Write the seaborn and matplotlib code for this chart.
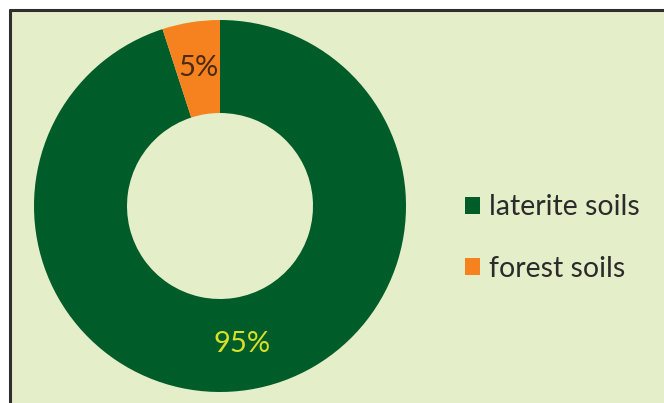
import matplotlib
matplotlib.use("Agg")
import matplotlib.pyplot as plt
from matplotlib.patches import Rectangle
import seaborn as sns

# Soil composition shares
categories = ["laterite soils", "forest soils"]
shares = [95, 5]

sns.set_theme(style="white")
plt.rcParams["font.family"] = ["Lato", "DejaVu Sans"]

W, H = 664, 403
fig = plt.figure(figsize=(W / 100, H / 100), dpi=100)
fig.patch.set_facecolor("white")

# Panel background with a dark frame on the top and left edges
bg = "#e4eec8"
fig.add_artist(Rectangle((9 / W, 0), 1, 1 - 9 / H, transform=fig.transFigure,
                         facecolor=bg, edgecolor="none", zorder=0))
fig.add_artist(plt.Line2D([9.5 / W, 9.5 / W], [0, 1 - 9.5 / H], transform=fig.transFigure,
                          color="#2e2e2e", lw=2.2, zorder=1))
fig.add_artist(plt.Line2D([9.5 / W, 1], [1 - 9.5 / H, 1 - 9.5 / H], transform=fig.transFigure,
                          color="#2e2e2e", lw=2.2, zorder=1))

cx, cy, r = 220, 206, 186
ax = fig.add_axes([(cx - r) / W, (H - cy - r) / H, 2 * r / W, 2 * r / H])
ax.set_facecolor("none")

colors = ["#005c28", "#f5821f"]
wedges, texts, autotexts = ax.pie(
    shares, colors=colors, startangle=90, counterclock=False,
    radius=1, wedgeprops=dict(width=0.5, edgecolor="none"),
    autopct=lambda p: f"{p:.0f}%", pctdistance=0.75,
    textprops=dict(fontsize=21),
)
autotexts[0].set_color("#d8e02a")
autotexts[1].set_color("#4a2a12")
ax.set_xlim(-1, 1)
ax.set_ylim(-1, 1)
ax.set_aspect("equal")
ax.axis("off")

leg = fig.legend(
    wedges, categories, loc="center left",
    bbox_to_anchor=(465 / W, 1 - 238 / H), frameon=False, borderpad=0,
    borderaxespad=0,
    fontsize=20.5, handlelength=0.53, handleheight=0.53,
    handletextpad=0.32, labelspacing=1.25, labelcolor="#2b2b2b",
)

fig.savefig("out.png", dpi=100, facecolor=fig.get_facecolor())
